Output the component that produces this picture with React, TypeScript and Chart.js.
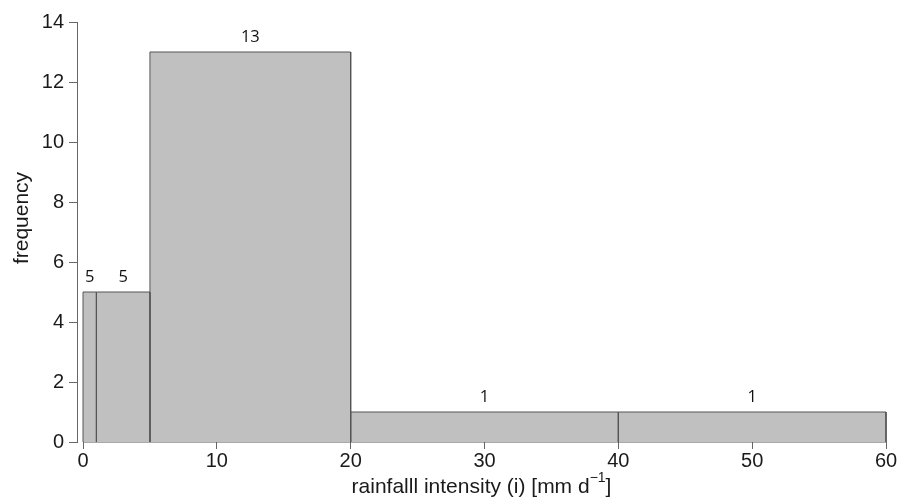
import React, { useEffect, useRef } from "react";
import { Chart, registerables } from "chart.js";

Chart.register(...registerables);

// Histogram of daily rainfall intensity with unequal bin widths
const binEdges = [0, 1, 5, 20, 40, 60];
const frequencies = [5, 5, 13, 1, 1];
const xTicks = [0, 10, 20, 30, 40, 50, 60];
const yTicks = [0, 2, 4, 6, 8, 10, 12, 14];
const xTitle = "rainfalll intensity (i) [mm d";
const xTitleSup = "\u22121";
const xTitleEnd = "]";
const yTitle = "frequency";

const BAR_FILL = "#c0c0c0";
const BAR_EDGE = "#555555";
const AXIS = "#666666";
const TEXT = "#1a1a1a";
const SANS = '"Liberation Sans", Arial, sans-serif';

const annotate = {
  id: "annotate",
  afterDatasetsDraw(chart: any) {
    const { ctx, scales, chartArea } = chart;
    const x = scales.x;
    const y = scales.y;
    ctx.save();

    // count above every bin
    ctx.fillStyle = "#111111";
    ctx.font = '16.5px "Open Sans", sans-serif';
    ctx.textAlign = "center";
    ctx.textBaseline = "alphabetic";
    frequencies.forEach((f, i) => {
      const cx = x.getPixelForValue((binEdges[i] + binEdges[i + 1]) / 2);
      ctx.fillText(String(f), cx, y.getPixelForValue(f) - 10);
    });

    // x axis title with superscript exponent
    ctx.fillStyle = TEXT;
    ctx.textAlign = "left";
    const mainFont = `21px ${SANS}`;
    const supFont = `14px ${SANS}`;
    ctx.font = mainFont;
    const w1 = ctx.measureText(xTitle).width;
    const w3 = ctx.measureText(xTitleEnd).width;
    ctx.font = supFont;
    const w2 = ctx.measureText(xTitleSup).width;
    const cxTitle = (chartArea.left + chartArea.right) / 2;
    let sx = cxTitle - (w1 + w2 + w3) / 2;
    const base = 493;
    ctx.font = mainFont;
    ctx.fillText(xTitle, sx, base);
    sx += w1;
    ctx.font = supFont;
    ctx.fillText(xTitleSup, sx, base - 11);
    sx += w2;
    ctx.font = mainFont;
    ctx.fillText(xTitleEnd, sx, base);

    // y axis title
    ctx.translate(28, 218);
    ctx.rotate(-Math.PI / 2);
    ctx.textAlign = "center";
    ctx.font = mainFont;
    ctx.fillText(yTitle, 0, 0);

    ctx.restore();
  },
};

export default function App() {
  const canvasRef = useRef<HTMLCanvasElement | null>(null);

  useEffect(() => {
    if (!canvasRef.current) return;

    const binDatasets = frequencies.map((f, i) => ({
      data: [
        { x: binEdges[i], y: 0 },
        { x: binEdges[i], y: f },
        { x: binEdges[i + 1], y: f },
        { x: binEdges[i + 1], y: 0 },
      ],
      showLine: true,
      fill: "origin",
      backgroundColor: BAR_FILL,
      borderColor: BAR_EDGE,
      borderWidth: 1,
      pointRadius: 0,
      pointHoverRadius: 0,
      tension: 0,
      clip: false,
    }));

    const baseline = {
      data: [
        { x: binEdges[0], y: 0 },
        { x: binEdges[binEdges.length - 1], y: 0 },
      ],
      showLine: true,
      fill: false,
      borderColor: BAR_EDGE,
      borderWidth: 1,
      pointRadius: 0,
      pointHoverRadius: 0,
      clip: false,
    };

    const tickFont = { family: SANS, size: 20 };

    const chart = new Chart(canvasRef.current, {
      type: "scatter",
      data: { datasets: [...binDatasets, baseline] as any },
      options: {
        animation: false,
        responsive: false,
        devicePixelRatio: 1,
        events: [],
        layout: { padding: { top: 22, right: 15, left: 0, bottom: 0 } },
        plugins: {
          legend: { display: false },
          tooltip: { enabled: false },
        },
        scales: {
          x: {
            type: "linear",
            min: -0.45,
            max: 60,
            afterBuildTicks: (s: any) => {
              s.ticks = xTicks.map((v) => ({ value: v }));
            },
            afterFit: (s: any) => {
              s.height = 61;
            },
            border: { display: false },
            grid: {
              drawOnChartArea: false,
              drawTicks: true,
              tickLength: 7,
              color: AXIS,
            },
            ticks: {
              font: tickFont,
              color: TEXT,
              padding: 0,
              maxRotation: 0,
              autoSkip: false,
            },
          },
          y: {
            type: "linear",
            min: 0,
            max: 14,
            afterBuildTicks: (s: any) => {
              s.ticks = yTicks.map((v) => ({ value: v }));
            },
            afterFit: (s: any) => {
              s.width = 77;
            },
            border: { display: true, color: AXIS },
            grid: {
              drawOnChartArea: false,
              drawTicks: true,
              tickLength: 8,
              color: AXIS,
            },
            ticks: {
              font: tickFont,
              color: TEXT,
              padding: 5,
              autoSkip: false,
            },
          },
        },
      },
      plugins: [annotate],
    });

    return () => chart.destroy();
  }, []);

  return (
    <div style={{ position: "absolute", left: 0, top: 0, width: 901, height: 503, background: "#ffffff" }}>
      <canvas ref={canvasRef} width={901} height={503} />
    </div>
  );
}
